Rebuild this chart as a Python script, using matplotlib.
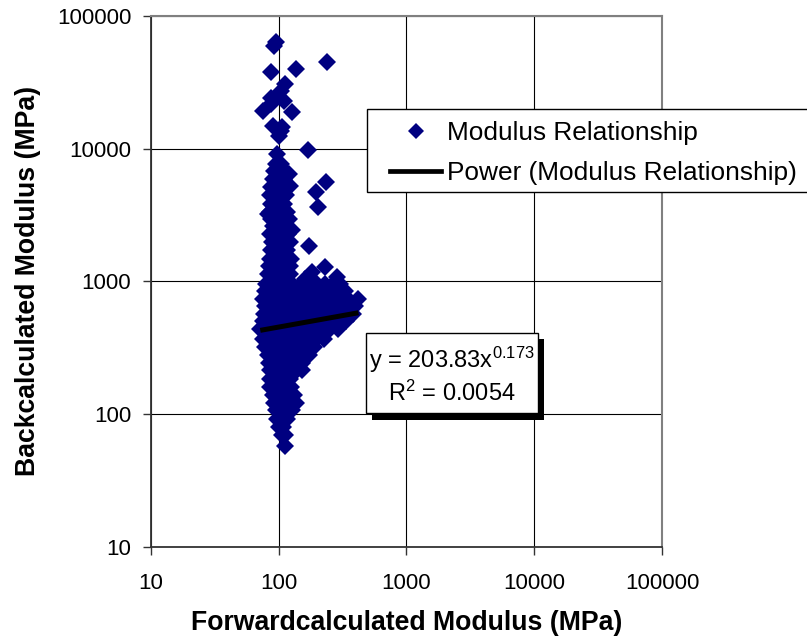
import matplotlib
matplotlib.use("Agg")
import matplotlib.pyplot as plt
from matplotlib.patches import Rectangle
from matplotlib.lines import Line2D
from matplotlib.ticker import FixedLocator, FixedFormatter, NullLocator
import numpy as np

plt.rcParams['font.family'] = ['Liberation Sans', 'DejaVu Sans']
plt.rcParams['mathtext.fontset'] = 'custom'
plt.rcParams['mathtext.rm'] = 'Liberation Sans'
plt.rcParams['mathtext.default'] = 'regular'

# ---------------- data ----------------
series_name = "Modulus Relationship"
trend_name = "Power (Modulus Relationship)"
x_label = "Forwardcalculated Modulus (MPa)"
y_label = "Backcalculated Modulus (MPa)"
tick_values = [10, 100, 1000, 10000, 100000]
tick_labels = ["10", "100", "1000", "10000", "100000"]

# sparse high points
outlier_x = [95, 93, 241, 88, 138, 113, 104, 87, 75, 87, 110, 128, 91, 107, 100, 105,
             98, 169, 237, 198, 202, 82, 172, 128, 120, 123, 184, 233, 289, 160]
outlier_y = [63700, 59000, 45000, 37800, 39800, 30700, 27200, 24000, 19200, 21700, 22800,
             18900, 14800, 14600, 12400, 13500, 9100, 9750, 5590, 4700, 3620, 3200, 1840,
             2450, 6430, 5210, 1170, 1290, 1080, 1050]

# dense cluster, row by row (backcalculated value, forwardcalculated values)
row_y = [7640, 6800, 5940, 5150, 4450, 3860, 3360, 2970, 2600, 2260, 1980, 1730, 1484,
         1300, 1140, 955, 840, 741, 650, 570, 500, 440, 370, 322, 278, 243, 213, 185,
         160, 140, 122, 107, 92, 80, 70, 57]
row_x = [
    [95, 104],
    [92, 101, 112],
    [90, 100, 110],
    [88, 97, 108, 118],
    [86, 95, 105, 115],
    [88, 98, 110],
    [85, 94, 104, 116],
    [88, 97, 107, 120],
    [90, 100, 112],
    [86, 95, 105, 118],
    [89, 99, 110, 122],
    [87, 96, 106, 116],
    [85, 94, 104, 115, 125],
    [84, 93, 102, 113, 124],
    [83, 92, 101, 111, 122],
    [80, 88, 96, 105, 115, 128, 150, 175, 200, 230, 265, 300],
    [78, 86, 95, 104, 114, 126, 140, 160, 185, 215, 250, 290, 330],
    [76, 84, 93, 102, 112, 124, 138, 155, 175, 200, 230, 265, 305, 350, 422],
    [78, 82, 91, 100, 110, 122, 136, 152, 172, 195, 225, 260, 300, 345, 395],
    [77, 80, 89, 98, 108, 120, 134, 150, 170, 195, 225, 255, 290, 330, 380],
    [76, 79, 87, 96, 106, 118, 132, 148, 168, 190, 220, 250, 285, 340],
    [72, 80, 88, 97, 107, 118, 132, 148, 168, 192, 220, 255, 290],
    [76, 82, 90, 99, 109, 120, 134, 150, 170, 195, 225],
    [78, 84, 92, 101, 111, 123, 138, 160, 190],
    [82, 90, 99, 109, 120, 134, 150, 172],
    [84, 92, 101, 111, 122, 136, 152],
    [86, 94, 103, 113, 125, 140, 154],
    [85, 93, 102, 112, 124],
    [86, 94, 103, 113, 125],
    [90, 98, 108, 120, 132],
    [92, 100, 110, 122, 136],
    [95, 104, 115, 128],
    [98, 107, 116],
    [100, 108],
    [106, 112],
    [113],
]

# power trend line y = a * x^b (Excel fit shown on chart)
trend_a = 203.83
trend_b = 0.173
trend_r2 = "0.0054"

# ---------------- build ----------------
xs = list(outlier_x)
ys = list(outlier_y)
for yv, xr in zip(row_y, row_x):
    xs.extend(xr)
    ys.extend([yv] * len(xr))
xs = np.array(xs, float)
ys = np.array(ys, float)

W, H = 807, 642
fig = plt.figure(figsize=(W / 100, H / 100), dpi=100)
fig.patch.set_facecolor('white')

def fx(px):
    return px / W

def fy(py):
    return 1 - py / H

ax_l, ax_r, ax_t, ax_b = 150.7, 662, 16, 546.7
ax = fig.add_axes([fx(ax_l), fy(ax_b), (ax_r - ax_l) / W, (ax_b - ax_t) / H])
ax.set_xscale('log')
ax.set_yscale('log')
ax.set_xlim(10, 100000)
ax.set_ylim(10, 100000)

ax.plot(xs, ys, linestyle='none', marker='D', markersize=9.4, color='#000080',
        markeredgewidth=0, zorder=3)

tx = np.array([xs.min(), xs.max()])
ax.plot(tx, trend_a * tx ** trend_b, color='black', linewidth=3.6,
        solid_capstyle='butt', zorder=4)

for axis in (ax.xaxis, ax.yaxis):
    axis.set_major_locator(FixedLocator(tick_values))
    axis.set_major_formatter(FixedFormatter(tick_labels))
    axis.set_minor_locator(NullLocator())

ax.grid(True, which='major', color='black', linewidth=0.8, zorder=1)
ax.set_axisbelow(True)
ax.tick_params(axis='both', which='major', direction='out', length=6, width=1.0,
               color='#333333', labelsize=16, labelcolor='black')
ax.tick_params(axis='x', pad=13)
ax.tick_params(axis='y', pad=8)

for s in ('left', 'bottom'):
    ax.spines[s].set_color('#333333')
    ax.spines[s].set_linewidth(1.3)
for s in ('top', 'right'):
    ax.spines[s].set_color('#808080')
    ax.spines[s].set_linewidth(1.5)

ax.set_xlabel(x_label, fontsize=19.2, fontweight='bold')
ax.set_ylabel(y_label, fontsize=19.2, fontweight='bold')
ax.xaxis.label.set_va('center')
ax.yaxis.label.set_va('center')
ax.xaxis.set_label_coords(0.5, (ax_b - 623) / (ax_b - ax_t))
ax.yaxis.set_label_coords((28 - ax_l) / (ax_r - ax_l), 0.5)

# legend frame (extends past the right edge like the original)
fig.add_artist(Rectangle((fx(367), fy(192)), (830 - 367) / W, (192 - 109) / H,
                         transform=fig.transFigure, facecolor='white',
                         edgecolor='black', linewidth=1.0, zorder=3))
handles = [Line2D([], [], linestyle='none', marker='D', markersize=8.5,
                  color='#000080', markeredgewidth=0),
           Line2D([], [], color='black', linewidth=3.4)]
leg = fig.legend(handles, [series_name, trend_name], loc='upper left',
                 bbox_to_anchor=(fx(390), fy(121)), frameon=False, fontsize=18.9,
                 handlelength=1.95, handletextpad=0.22, labelspacing=0.6,
                 borderpad=0, borderaxespad=0, numpoints=1)
leg.set_zorder(5)

# equation box with shadow
fig.add_artist(Rectangle((fx(372), fy(420)), (544 - 372) / W, (420 - 339) / H,
                         transform=fig.transFigure, facecolor='black',
                         edgecolor='black', linewidth=0, zorder=3))
fig.add_artist(Rectangle((fx(366), fy(413)), (538 - 366) / W, (413 - 333) / H,
                         transform=fig.transFigure, facecolor='white',
                         edgecolor='black', linewidth=1.0, zorder=4))
fig.text(fx(452), fy(360), "y = %.2fx$^{%.3f}$" % (trend_a, trend_b), ha='center',
         va='center', fontsize=17, zorder=6)
fig.text(fx(452), fy(393), "R$^{2}$ = " + trend_r2, ha='center', va='center',
         fontsize=17, zorder=6)

fig.savefig('out.png', dpi=100)
